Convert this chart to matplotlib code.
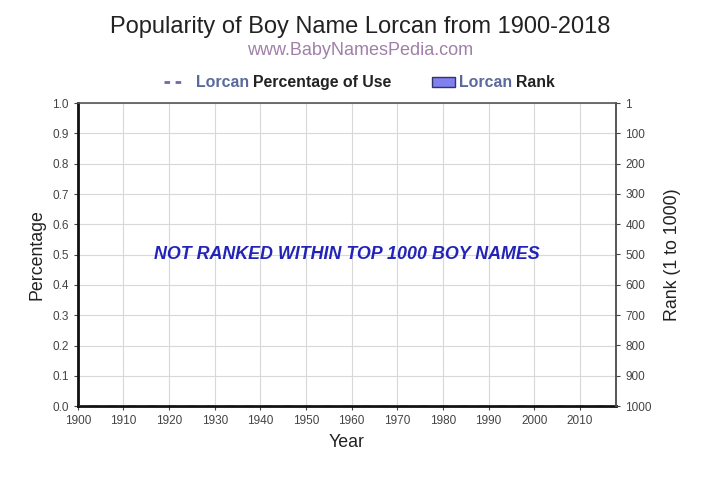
import matplotlib
matplotlib.use("Agg")
import matplotlib.pyplot as plt
from matplotlib.lines import Line2D

plt.rcParams["font.family"] = ["Liberation Sans", "DejaVu Sans"]

name = "Lorcan"
years = list(range(1900, 2019))
percentage = [0.0] * len(years)
rank_ticks = [1, 100, 200, 300, 400, 500, 600, 700, 800, 900, 1000]
x_ticks = list(range(1900, 2011, 10))
y_ticks = [round(0.1 * i, 1) for i in range(11)]

fig = plt.figure(figsize=(7.2, 4.8), dpi=100)
ax = fig.add_axes([0.108, 0.154, 0.748, 0.631])

ax.plot(years, percentage, color="#2a2a7a", linestyle=(0, (4, 3)), linewidth=2, zorder=3)

ax.set_xlim(1900, 2018)
ax.set_ylim(0, 1.0)
ax.set_xticks(x_ticks)
ax.set_yticks(y_ticks)
ax.set_yticklabels([f"{v:.1f}" for v in y_ticks])
ax.grid(True, color="#d8d8d8", linewidth=0.8)
ax.tick_params(axis="both", labelsize=8.5, colors="#444444", length=3, width=0.8)
for s in ["left", "bottom"]:
    ax.spines[s].set_linewidth(2)
    ax.spines[s].set_color("#111111")
ax.spines["top"].set_color("#555555")
ax.spines["top"].set_linewidth(1.2)
ax.spines["right"].set_color("#555555")
ax.spines["right"].set_linewidth(1.2)

ax.set_xlabel("Year", fontsize=12.8, color="#222222", labelpad=5)
ax.set_ylabel("Percentage", fontsize=12.8, color="#222222", labelpad=5)

ax2 = ax.twinx()
ax2.set_ylim(1000, 1)
ax2.set_yticks(rank_ticks)
ax2.set_yticklabels([str(r) for r in rank_ticks])
ax2.tick_params(axis="y", labelsize=8.5, colors="#444444", length=3, width=0.8)
ax2.spines["right"].set_color("#555555")
ax2.spines["right"].set_linewidth(1.2)
for s in ["left", "bottom", "top"]:
    ax2.spines[s].set_visible(False)
ax2.set_ylabel("Rank (1 to 1000)", fontsize=12.8, color="#222222", labelpad=9)

ax.text(1959, 0.5, "NOT RANKED WITHIN TOP 1000 BOY NAMES", ha="center", va="center",
        fontsize=12.9, fontweight="bold", fontstyle="italic", color="#2323b8", zorder=5)

fig.text(0.5, 0.944, f"Popularity of Boy Name {name} from 1900-2018", ha="center", va="center",
         fontsize=17, color="#222222")
fig.text(0.5, 0.895, "www.BabyNamesPedia.com", ha="center", va="center",
         fontsize=13, color="#a080a8")

# legend
ly = 0.829
fig.add_artist(Line2D([0.228, 0.252], [ly, ly], color="#6a6aa8", linestyle=(0, (2, 2)), linewidth=2,
                      transform=fig.transFigure))
fig.text(0.272, ly, name, ha="left", va="center", fontsize=11.4, fontweight="bold", color="#5a6a9a")
fig.text(0.351, ly, "Percentage of Use", ha="left", va="center", fontsize=11.4, fontweight="bold", color="#222222")
fig.add_artist(plt.Rectangle((0.600, ly - 0.011), 0.032, 0.022, facecolor="#8080ee", edgecolor="#333366",
                             linewidth=1, transform=fig.transFigure))
fig.text(0.638, ly, name, ha="left", va="center", fontsize=11.4, fontweight="bold", color="#5a6a9a")
fig.text(0.716, ly, "Rank", ha="left", va="center", fontsize=11.4, fontweight="bold", color="#222222")

fig.savefig("out.png", dpi=100, facecolor="white")
